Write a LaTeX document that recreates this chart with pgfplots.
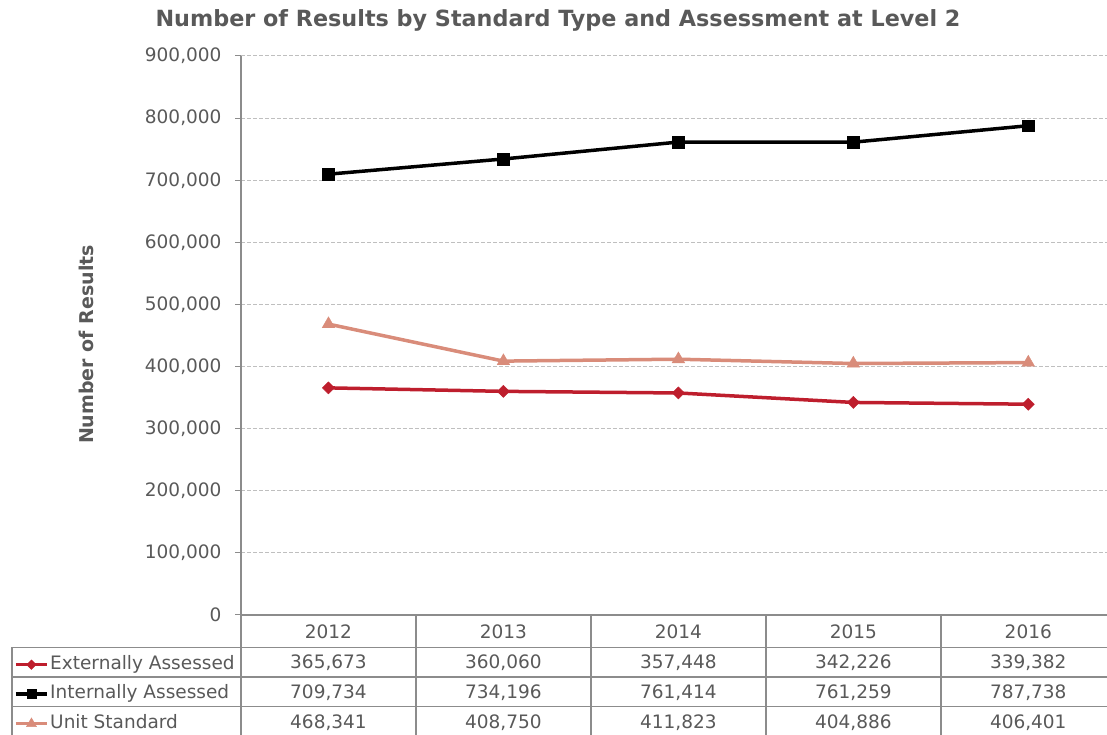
\documentclass[border=0pt]{standalone}
\usepackage{fontspec}
\setmainfont{DejaVu Sans}
\usepackage{pgfplots}
\usepackage{pgfplotstable}
\pgfplotsset{compat=1.18}
\definecolor{txt}{HTML}{595959}
\definecolor{axgray}{HTML}{8C8C8C}
\definecolor{gridgray}{HTML}{BFBFBF}
\definecolor{extred}{HTML}{BE1E2D}
\definecolor{unitsal}{HTML}{D98C7A}
\newcommand{\fs}{\fontsize{18.5}{22}\selectfont}
\pgfplotstableread{
x ext int unit
0 365673 709734 468341
1 360060 734196 408750
2 357448 761414 411823
3 342226 761259 404886
4 339382 787738 406401
}\datatable
\begin{document}
\begin{tikzpicture}[x=1pt,y=1pt]
\begin{axis}[
  at={(241pt,120pt)}, anchor=south west, scale only axis,
  width=866pt, height=559pt,
  xmin=-0.5, xmax=4.45, ymin=0, ymax=900000,
  axis lines=left, axis line style={-, draw=axgray, line width=1.5pt},
  xtick=\empty,
  ytick distance=100000, ymajorgrids,
  grid style={gridgray, dash pattern=on 4pt off 2pt, line width=1pt},
  ytick style={axgray, line width=1pt}, major tick length=6pt, tick align=outside,
  scaled y ticks=false,
  yticklabel style={/pgf/number format/fixed, /pgf/number format/1000 sep={,}, /pgf/number format/assume math mode=true, xshift=-10pt},
  ticklabel style={font=\fs, text=txt},
  clip=false,
  legend style={draw=none, fill=none, at={(axis description cs:-0.2621,-0.0733)}, anchor=north west,
    inner sep=0pt, row sep=12.5pt, font=\fs, text=txt,
    nodes={inner sep=0pt, text height=13pt, text depth=4pt},
    /tikz/every odd column/.append style={column sep=1.5pt}},
  legend cell align=left,
  legend image code/.code={\draw[mark repeat=2,mark phase=2,#1] plot coordinates {(0pt,0pt)(15.5pt,0pt)(31pt,0pt)};},
]
\addplot[extred, line width=3.5pt, mark=square*, mark size=4.3pt,
  mark options={rotate=45, line width=0.4pt, fill=extred},
  legend image post style={mark size=3.4pt}] table[x=x, y=ext] {\datatable};
\addlegendentry{Externally Assessed}
\addplot[black, line width=3.5pt, mark=square*, mark size=5.8pt,
  mark options={line width=0.4pt, fill=black},
  legend image post style={mark size=4.5pt}] table[x=x, y=int] {\datatable};
\addlegendentry{Internally Assessed}
\addplot[unitsal, line width=3.5pt, mark=triangle*, mark size=7.3pt,
  mark options={line width=0.4pt, fill=unitsal},
  legend image post style={mark size=5.8pt}] table[x=x, y=unit] {\datatable};
\addlegendentry{Unit Standard}
% data table text
\foreach \i/\yr in {0/2012,1/2013,2/2014,3/2015,4/2016}{
  \edef\temp{\noexpand\node[anchor=base, font=\noexpand\fs, text=txt, yshift=-24pt] at (axis cs:\i,0) {\yr};}
  \temp
}
\node[anchor=base, font=\fs, text=txt, yshift=-54pt] at (axis cs:0,0) {365,673};
\node[anchor=base, font=\fs, text=txt, yshift=-54pt] at (axis cs:1,0) {360,060};
\node[anchor=base, font=\fs, text=txt, yshift=-54pt] at (axis cs:2,0) {357,448};
\node[anchor=base, font=\fs, text=txt, yshift=-54pt] at (axis cs:3,0) {342,226};
\node[anchor=base, font=\fs, text=txt, yshift=-54pt] at (axis cs:4,0) {339,382};
\node[anchor=base, font=\fs, text=txt, yshift=-83pt] at (axis cs:0,0) {709,734};
\node[anchor=base, font=\fs, text=txt, yshift=-83pt] at (axis cs:1,0) {734,196};
\node[anchor=base, font=\fs, text=txt, yshift=-83pt] at (axis cs:2,0) {761,414};
\node[anchor=base, font=\fs, text=txt, yshift=-83pt] at (axis cs:3,0) {761,259};
\node[anchor=base, font=\fs, text=txt, yshift=-83pt] at (axis cs:4,0) {787,738};
\node[anchor=base, font=\fs, text=txt, yshift=-113pt] at (axis cs:0,0) {468,341};
\node[anchor=base, font=\fs, text=txt, yshift=-113pt] at (axis cs:1,0) {408,750};
\node[anchor=base, font=\fs, text=txt, yshift=-113pt] at (axis cs:2,0) {411,823};
\node[anchor=base, font=\fs, text=txt, yshift=-113pt] at (axis cs:3,0) {404,886};
\node[anchor=base, font=\fs, text=txt, yshift=-113pt] at (axis cs:4,0) {406,401};
\end{axis}
% table grid
\begin{scope}[axgray, line width=1.5pt]
\foreach \xx in {241,416,591,766,941}{\draw (\xx pt,120pt) -- (\xx pt,0pt);}
\draw (12pt,87.5pt) -- (1110pt,87.5pt);
\draw (12pt,58pt) -- (1110pt,58pt);
\draw (12pt,28.5pt) -- (1110pt,28.5pt);
\draw (12pt,87.5pt) -- (12pt,0pt);
\end{scope}
% titles
\node[anchor=base, font=\bfseries\fontsize{22.3}{26}\selectfont, text=txt] at (558pt,708pt) {Number of Results by Standard Type and Assessment at Level 2};
\node[rotate=90, anchor=base, font=\bfseries\fontsize{19}{23}\selectfont, text=txt] at (93pt,390.5pt) {Number of Results};
\pgfresetboundingbox
\useasboundingbox (0pt,0pt) rectangle (1107pt,735pt);
\end{tikzpicture}
\end{document}
